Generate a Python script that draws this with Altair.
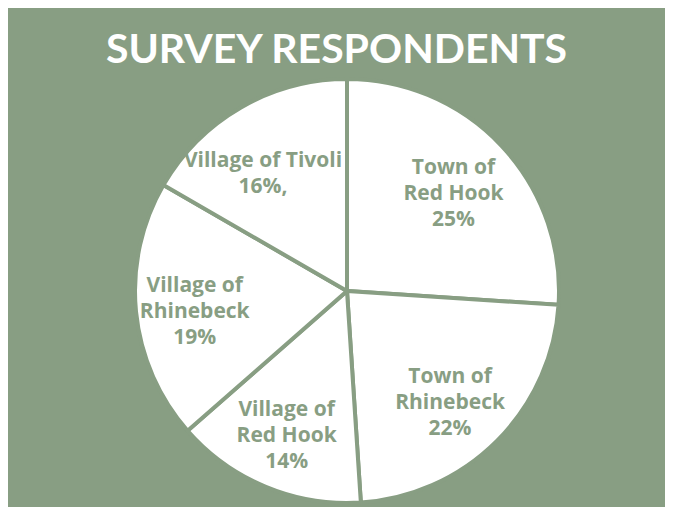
import altair as alt
import pandas as pd

places = ["Town of Red Hook", "Town of Rhinebeck", "Village of Red Hook",
          "Village of Rhinebeck", "Village of Tivoli"]
shares = [25, 22, 14, 19, 16]
labels = ["Town of\nRed Hook\n25%", "Town of\nRhinebeck\n22%",
          "Village of\nRed Hook\n14%", "Village of\nRhinebeck\n19%",
          "Village of Tivoli\n16%,"]
line_counts = [3, 3, 3, 3, 2]

df = pd.DataFrame({"place": places, "share": shares, "label": labels,
                   "lines": line_counts,
                   "order": list(range(len(places)))})

GREEN = "#889E83"
CX, CY = 339, 213
R = 212

base = alt.Chart(df).transform_joinaggregate(
    total="sum(share)"
).transform_window(
    cum="sum(share)", sort=[alt.SortField("order")],
    frame=[None, 0]
).transform_calculate(
    a_end="2 * PI * datum.cum / datum.total",
    a_start="2 * PI * (datum.cum - datum.share) / datum.total",
    a_mid="2 * PI * (datum.cum - datum.share / 2) / datum.total",
)

arcs = base.mark_arc(radius=R, stroke=GREEN, strokeWidth=4, fill="white").encode(
    theta=alt.Theta("a_start:Q", scale=None),
    theta2="a_end:Q",
    x=alt.value(CX), y=alt.value(CY),
)

text_style = dict(radius=150, lineBreak="\n", font="Open Sans", fontWeight="bold",
                  fontSize=21, lineHeight=26, color=GREEN,
                  align="center", baseline="middle")

text3 = base.mark_text(dy=-20, dx=-3, **text_style).encode(
    theta=alt.Theta("a_mid:Q", scale=None),
    text="label:N", x=alt.value(CX), y=alt.value(CY)
).transform_filter("datum.lines == 3")

text2 = base.mark_text(dx=-9, dy=0, **text_style).encode(
    theta=alt.Theta("a_mid:Q", scale=None),
    text="label:N", x=alt.value(CX), y=alt.value(CY)
).transform_filter("datum.lines == 2")

chart = (arcs + text3 + text2).properties(
    width=657, height=429,
    title=alt.Title("SURVEY RESPONDENTS", font="Lato", fontWeight="bold",
                    fontSize=41, color="white", anchor="middle", offset=-1),
    background=GREEN,
    padding={"top": 70, "left": 0, "right": 0, "bottom": 0},
    autosize=alt.AutoSizeParams(type="none"),
).configure_view(stroke=None)

chart.save("out.html", embed_options={"renderer": "svg", "actions": False})
